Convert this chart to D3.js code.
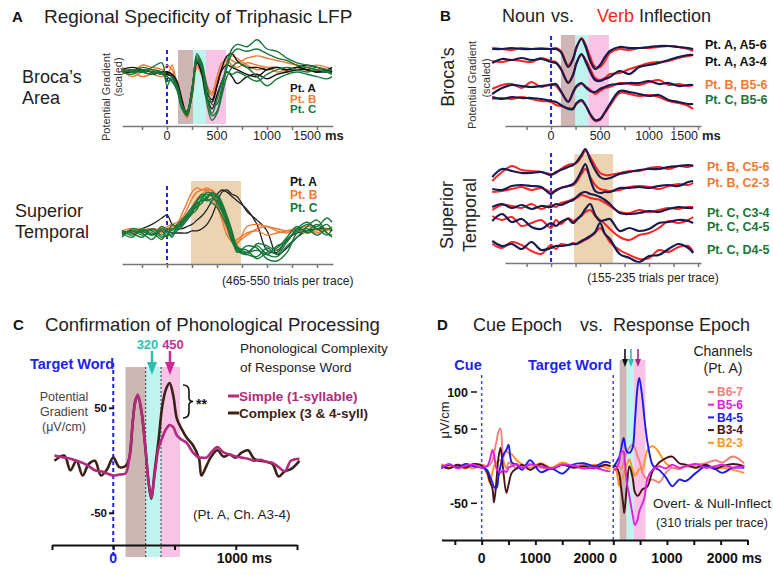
<!DOCTYPE html>
<html lang="en">
<head>
<meta charset="utf-8">
<title>Triphasic LFP</title>
<script src="https://d3js.org/d3.v7.min.js"></script>
<style>
body { margin: 0; background: #fff; }
text { font-family: "Liberation Sans", Arial, sans-serif; }
</style>
</head>
<body>
<script>

// ---- data ----
// Panel A (scaled potential gradient), time in ms
var tA = [-450,-350,-250,-150,-50,0,50,100,150,200,250,300,350,400,450,500,550,600,650,700,800,900,1000,1100,1200,1300,1400,1500,1600,1650];

var brocaPtA = [
  [0.05,0.1,0.05,0,0,0,-0.05,-0.2,-0.6,-0.95,-0.5,0.3,0.1,-0.45,-0.6,-0.3,0.1,0.35,0.4,0.25,0.1,0.1,0.05,0.1,0.05,0.1,0.15,0.1,0.05,0.1],
  [0,0.05,0,-0.05,0,0,-0.05,-0.3,-0.7,-0.9,-0.4,0.25,0,-0.55,-0.8,-0.5,-0.2,0,-0.1,-0.25,-0.1,-0.05,-0.15,-0.05,0,0.05,0.05,0,0.05,0],
  [0,0,0.05,0,-0.05,-0.05,-0.1,-0.35,-0.75,-0.85,-0.35,0.2,-0.05,-0.6,-0.65,-0.3,0.05,0.15,0.1,0.05,-0.05,-0.1,0.05,0.1,0.05,0.1,0.05,0,0,0]
];
var brocaPtB = [
  [0.1,0,0.15,0.1,0.05,-0.1,0.15,-0.3,-0.75,-1.0,-0.45,0.2,0,-0.35,-0.5,-0.2,0.1,0.3,0.25,0.2,0.3,0.35,0.3,0.25,0.2,0.15,0.1,0.15,0.1,0.05],
  [0.05,-0.1,0,0.05,0,0.15,0.05,-0.25,-0.7,-0.95,-0.5,0.15,-0.1,-0.5,-0.6,-0.25,0.05,0.2,0.35,0.3,0.15,0.05,0.1,0,0.05,0.1,0.05,0.1,0.05,0],
  [-0.05,0,-0.1,-0.05,-0.1,0,-0.05,-0.2,-0.65,-0.9,-0.55,0.1,-0.05,-0.3,-0.45,-0.1,0.2,0.25,0.15,0.1,0.2,0.15,0.1,0.1,0,0.05,0.1,0,0.05,0]
];
var brocaPtC = [
  [0,0.05,0,0.1,0.2,-0.3,-0.1,-0.3,-0.8,-0.95,-0.4,0.4,0.15,-0.3,-0.7,-0.7,-0.3,0.2,0.5,0.6,0.55,0.7,0.5,0.45,0.3,0.2,0.15,0.1,0.05,0.05],
  [0.05,0,0.1,0.05,0,-0.2,-0.15,-0.35,-0.8,-0.9,-0.45,0.35,0.2,-0.5,-0.95,-0.85,-0.4,0.1,0.4,0.5,0.45,0.5,0.4,0.3,0.25,0.15,0.1,0.05,0,0.05],
  [0,-0.05,0.05,0,-0.05,-0.1,-0.2,-0.4,-0.75,-0.85,-0.4,0.3,0.1,-0.7,-1.05,-0.9,-0.5,-0.1,0.1,0.2,0.1,-0.1,-0.3,-0.15,-0.05,0,-0.05,-0.1,-0.15,-0.1],
  [0.05,0,0,-0.05,0,-0.1,-0.2,-0.3,-0.7,-0.9,-0.5,0.25,0.05,-0.55,-0.9,-0.6,-0.2,0,-0.05,0,-0.1,-0.2,-0.05,0.05,0.1,0.05,0,0.05,0,-0.05]
];
var stgPtA = [
  [0,0.05,0.1,0.2,0.35,0.42,0.2,0.1,0.1,0.15,0.2,0.3,0.4,0.55,0.75,0.9,1.0,0.95,0.85,0.75,0.55,0.2,-0.4,-0.45,-0.15,0,0.05,0.1,0.1,0.05],
  [0.05,0,0.05,0.1,0.05,0.05,0,0,0,0,0.05,0.05,0.1,0.2,0.4,0.7,0.95,1.0,0.9,0.85,0.5,0.3,0.05,-0.5,-0.35,-0.1,0.05,0.1,0.1,0.05]
];
var stgPtB = [
  [0.05,0.1,0,0.1,0.05,0.1,0.15,0.2,0.45,0.7,0.95,1.05,1.0,1.0,0.85,0.6,0.35,0.1,-0.2,-0.25,0.15,0.2,0.15,0.1,0.05,0.05,0,0.05,0.1,0.05],
  [0,0.05,0.1,0.05,0.1,0.15,0.2,0.25,0.35,0.55,0.8,0.95,1.0,1.05,0.95,0.7,0.3,-0.05,-0.2,-0.15,0,0.05,-0.05,0,0.05,0.1,0.05,0,0.1,0.05],
  [0.05,0,0.05,0.1,0,0.1,0.1,0.15,0.25,0.45,0.6,0.8,0.9,1.0,1.0,0.85,0.5,0.1,-0.15,-0.2,-0.05,0.1,0.15,0.05,0,0.1,0.15,0.1,0.05,0.15]
];
var stgPtC = [
  [0,-0.1,0.1,-0.05,0.05,-0.1,0.2,0.15,0.3,0.45,0.6,0.75,0.85,0.9,0.85,0.7,0.5,0.3,0,-0.35,-0.5,-0.55,-0.35,-0.5,-0.2,0.1,0.25,0.1,0.2,0.05],
  [0.05,0,-0.1,0.1,-0.05,0.05,0,0.1,0.2,0.35,0.5,0.65,0.8,0.95,0.9,0.8,0.6,0.25,-0.1,-0.4,-0.45,-0.3,-0.5,-0.55,-0.3,-0.1,0.15,0.3,0,-0.05],
  [-0.05,0.05,0,-0.15,0.1,0,-0.05,0.05,0.15,0.3,0.45,0.7,0.75,0.8,0.95,0.85,0.65,0.35,0,-0.45,-0.3,-0.35,-0.6,-0.65,-0.45,0,0.1,-0.05,0.1,0.1],
  [0,0.05,-0.05,0,-0.15,0.1,0.05,0.2,0.3,0.4,0.55,0.75,0.9,0.8,0.7,0.6,0.4,0.15,-0.2,-0.4,-0.5,-0.25,-0.3,-0.4,-0.15,0.05,0.2,0.15,0.35,0.25],
  [0.05,-0.05,0.05,0.05,-0.1,-0.05,0.1,0.1,0.25,0.35,0.5,0.6,0.7,0.85,0.9,0.9,0.7,0.4,0.05,-0.3,-0.45,-0.4,-0.5,-0.3,-0.2,0.1,0.05,0.2,0,-0.1],
  [-0.1,0.1,0.05,-0.05,0.15,0.05,-0.1,0.15,0.2,0.4,0.45,0.55,0.8,0.75,0.8,0.75,0.55,0.2,-0.15,-0.35,-0.4,-0.6,-0.45,-0.35,-0.1,0.15,0,0.1,-0.05,0.1]
];

// Panel B: noun (navy) vs verb (red), scaled
var tB = [-600,-500,-400,-300,-200,-100,0,50,100,175,225,260,310,350,400,450,500,550,600,700,800,900,1000,1100,1200,1300,1400,1450];
var brocaLabels = ["Pt. A, A5-6", "Pt. A, A3-4", "Pt. B, B5-6", "Pt. C, B5-6"];
var brocaNoun = [
  [0,0,0.1,0,0,0,0,0,-0.3,-1.8,-1.0,0.2,1.0,0.3,-1.2,-2.0,-1.6,-0.8,-0.2,0.2,0.1,0.1,0.2,0.3,0.3,0.2,0.1,0],
  [0,0.4,0.3,0.5,0.3,0.4,0.1,0,-0.6,-2.0,-1.2,0,0.9,0.2,-0.9,-1.7,-1.8,-1.6,-1.4,-0.8,-1.1,-0.4,-0.2,0,0.3,0.6,0.8,0.8],
  [-0.8,-0.2,0.1,0,-0.1,0,0.1,0.2,-0.5,-1.6,-0.6,0,0.3,-0.1,-0.5,-0.6,-0.3,-0.1,0.1,0.2,0.3,0.3,0.5,0.2,0.3,0,0.1,0.1],
  [0.3,0.1,0.3,0.2,0.2,0.1,-0.1,-0.2,-0.5,-0.9,-0.9,-0.3,0,-0.5,-1.4,-2.0,-1.9,-1.2,-0.4,0.9,0.8,0.6,0.4,0.5,0,-0.2,-0.4,-0.4]
];
var brocaVerb = [
  [0.1,0,-0.1,0.1,0,0.1,0,0.1,-0.2,-1.6,-0.9,0.1,1.1,0.5,-0.8,-1.8,-1.8,-1.2,-0.4,0,-0.1,0.1,0.1,0.2,0.3,0.2,0,-0.2],
  [0.2,0.1,0.3,0.2,0.1,0.5,0.2,0.1,-0.5,-1.9,-1.1,0,0.8,0.4,-0.6,-1.5,-1.7,-1.5,-1.1,-1.0,-0.6,-0.3,0,0.1,0.2,0.5,0.7,0.8],
  [-0.3,0.1,0.2,-0.2,0.4,-0.1,0.2,0,-0.6,-1.5,-0.7,-0.1,0.2,0,-0.4,-0.8,-0.5,-0.2,-0.1,0.3,0.2,0.1,0.4,0.6,0.1,0.2,0,0.1],
  [0.1,0.2,0.1,0.3,0.1,-0.1,-0.2,-0.5,-0.6,-0.8,-0.8,-0.4,-0.1,-0.5,-1.5,-2.1,-2.0,-1.3,-0.6,0.7,0.6,0.4,0.5,0.3,-0.1,-0.3,-0.6,-0.9]
];
var stgLabels = ["Pt. B, C5-6", "Pt. B, C2-3", "Pt. C, C3-4", "Pt. C, C4-5", "Pt. C, D4-5"];
var stgNoun = [
  [-0.2,0.6,0.4,0.2,0.2,0.3,0,0.3,0.5,0.8,1.0,1.3,2.0,2.6,1.5,0.5,-0.2,-0.4,-0.3,0.1,0.3,0.5,0.6,0.6,0.8,0.9,1.0,0.9],
  [0,-0.1,0.3,0.4,0.3,0.2,-0.5,-0.1,0.1,0.3,0.5,0.9,1.8,2.5,1.0,-0.2,-0.4,-0.3,-0.3,0.1,0.1,0.2,0.1,0.3,0.4,0.3,0.7,0.8],
  [0.3,0.6,0.2,0.5,0.1,0.4,0.3,0.6,0.5,0.8,1.0,1.3,1.7,1.8,1.6,1.5,1.3,1.0,0.6,-0.3,-0.4,-0.3,-0.1,-0.2,0.1,0.3,0.2,0.2],
  [0.4,1.1,0.3,0.6,-0.2,-0.4,0.2,-0.1,0.3,0.6,0.2,0.5,1.0,1.6,2.1,1.0,0.4,0.5,0.6,-0.6,-0.3,-0.6,-0.4,0.2,0.3,0.5,0.4,0.2],
  [0.5,0,0.2,-0.3,0.4,-0.4,-0.2,0,0,0.1,0.2,0.2,0.5,0.7,1.0,1.4,2.3,1.2,0.7,-0.8,-1.2,-1.6,-1.0,-0.9,-0.3,0.2,-0.2,-0.7]
];
var stgVerb = [
  [-0.6,0.3,0.9,0.5,0.4,0.3,0.1,0.2,0.6,1.0,1.1,1.2,1.8,2.4,1.8,0.9,0.2,0,0,0.2,0.4,0.4,0.7,0.8,0.6,0.9,0.8,1.0],
  [-0.3,-0.2,0,0.2,-0.1,0.1,-0.3,-0.2,0.1,0.3,0.4,0.7,1.5,2.0,1.2,0.4,0,-0.1,-0.2,-0.1,0.2,0.3,0.2,0,0.3,0.5,0.4,0.6],
  [0,0.5,0.4,0.2,0.6,0.1,0.5,0.3,0.7,0.9,1.1,1.2,1.5,1.4,1.2,1.1,1.0,0.7,0.4,-0.2,-0.3,0,-0.2,0,0.2,0.1,0.3,0.3],
  [0.9,0.5,0.8,-0.1,0.2,0.5,-0.3,0.5,0.1,0.7,0.4,0.6,0.9,1.3,1.5,0.9,0.5,0.1,-0.4,-1.2,-1.5,-1.0,-0.8,-0.3,0.4,0.2,0.5,0.8],
  [0.2,-0.2,0.4,0.1,-0.5,-0.8,0.1,-0.3,0.2,0.1,0.3,0.2,0.4,0.6,0.9,1.3,1.8,1.2,0.4,-0.4,-0.9,-1.3,-1.2,-0.4,-0.6,-0.1,0,-0.6]
];

// Panel C: uV/cm, Pt. A ch. A3-4
var tC = [-480,-400,-350,-300,-250,-200,-150,-100,-50,0,50,100,130,160,180,200,230,260,290,310,340,370,400,430,460,490,520,560,600,650,700,720,760,800,850,900,950,1000,1050,1100,1150,1200,1250,1300,1350,1400,1450,1520];
var simpleWord = [5,3,2,0,-2,-5,-9,-10,-12,-14,-13,-12,2,38,56,63,48,16,-22,-35,-12,12,22,30,34,32,24,20,17,8,3,3,3,8,13,8,6,4,3,2,0,1,-1,-2,-6,-10,0,2];
var complexWord = [0,5,-9,0,-14,-3,0,-14,-8,3,-6,-5,2,38,57,62,47,15,-22,-36,-8,20,52,68,74,62,40,30,22,15,2,-14,-5,4,10,4,6,3,8,10,2,0,-1,-3,-15,-10,-8,0];

// Panel D: uV/cm, cue epoch and response epoch
var tCue = [-750,-600,-450,-300,-150,0,100,150,200,230,280,310,350,400,460,500,560,650,750,900,1100,1300,1500,1700,1900,2100,2300,2400];
var tResp = [0,50,110,143,192,205,250,300,360,403,453,484,545,580,640,730,795,855,980,1100,1230,1350,1540,1720,1900,2030,2230,2440];
var channels = ["B6-7", "B5-6", "B4-5", "B3-4", "B2-3"];
var cueB67 = [3,-2,2,0,-3,2,0,2,8,18,35,46,51,10,-3,5,2,-3,0,3,-2,-4,3,0,2,-2,1,0];
var cueB56 = [-2,3,-3,1,2,-2,0,8,22,15,-4,-6,-9,-5,-8,-2,0,3,-2,2,0,-3,2,1,-3,-2,-6,-7];
var cueB45 = [-3,2,-2,3,0,-2,-5,-13,-22,-28,-29,-15,0,15,22,29,5,2,-5,8,-8,-3,-10,2,4,0,6,4];
var cueB34 = [0,-3,2,-2,3,1,-8,-20,-30,-49,-15,10,25,-5,-36,-25,-9,-3,2,-5,3,-4,2,-2,0,-3,2,0];
var cueB23 = [2,-1,0,-3,1,2,-10,-22,-8,0,5,8,8,12,20,18,16,8,3,-2,4,-2,5,0,-3,2,-2,-3];
var respB67 = [0,4,0,-4,5,10,18,25,29,25,13,8,-9,-14,-18,-18,-20,-22,-9,-2,-4,0,2,4,8,5,13,4];
var respB56 = [-5,-4,5,18,20,15,-20,-40,-65,-79,-72,-61,-50,-43,-16,-5,-2,0,-3,2,-2,0,3,-2,0,2,-2,0];
var respB45 = [-2,4,12,22,38,35,20,18,25,60,107,119,90,65,31,2,-3,-5,-15,-27,-18,-20,-9,0,-4,-9,-2,-2];
var respB34 = [0,0,-10,-27,-55,-63,-30,0,-15,-35,-40,-38,-31,-30,-27,-7,0,5,11,13,4,2,-2,2,-3,0,3,0];
var respB23 = [-3,-5,-27,-20,-13,-8,2,9,-5,-13,-8,-4,-4,5,22,27,24,18,4,-2,-3,0,-2,0,-4,-2,-5,-9];

// time windows (ms)
var winA = [110, 260, 390, 590];
var winB = [100, 250, 380, 590];
var winC = [100, 265, 390, 545];
var winD = [120, 250, 380, 600];
var stgWinA = [240, 740];
var stgWinB = [235, 633];

// ---- drawing ----
var svg = d3.select("body").append("svg")
    .attr("width", 773)
    .attr("height", 575)
    .style("background", "#fff");

var BROWN = "#cdb6b3", CYAN = "#bff4ee", PINK = "#f8c3e5", TAN = "#ecd4b3";
var BLUE = "#2222ee";

function label(x, y, s, o) {
  o = o || {};
  var t = svg.append("text")
      .attr("x", x).attr("y", y)
      .attr("font-size", o.size || 12)
      .attr("font-weight", o.bold ? "bold" : "normal")
      .attr("fill", o.color || "#222")
      .attr("text-anchor", o.anchor || "start")
      .text(s);
  if (o.rotate) t.attr("transform", "rotate(-90," + x + "," + y + ")");
  return t;
}

function shade(x, t0, t1, y0, y1, color) {
  svg.append("rect")
     .attr("x", x(t0)).attr("width", x(t1) - x(t0))
     .attr("y", y0).attr("height", y1 - y0)
     .attr("fill", color);
}

function triWindows(x, w, y0, y1) {
  shade(x, w[0], w[1], y0, y1, BROWN);
  shade(x, w[1], w[2], y0, y1, CYAN);
  shade(x, w[2], w[3], y0, y1, PINK);
}

function vdash(x, t, y0, y1, color, width, dash) {
  svg.append("line")
     .attr("x1", x(t)).attr("x2", x(t))
     .attr("y1", y0).attr("y2", y1)
     .attr("stroke", color).attr("stroke-width", width)
     .attr("stroke-dasharray", dash);
}

function traces(x, y, times, list, color, width, dy) {
  var line = d3.line()
      .x(function(d, i) { return x(times[i]); })
      .y(function(d) { return y(d) + (dy || 0); })
      .curve(d3.curveCatmullRom.alpha(0.5));
  svg.append("g").selectAll("path")
     .data(list)
     .enter().append("path")
     .attr("d", line)
     .attr("fill", "none")
     .attr("stroke", color)
     .attr("stroke-width", width)
     .attr("stroke-linejoin", "round");
}

function timeAxis(x, y, ticks, color, width, size) {
  var g = svg.append("g")
      .attr("transform", "translate(0," + y + ")")
      .call(d3.axisBottom(x).tickValues(ticks).tickSize(size).tickSizeOuter(0).tickFormat(""));
  g.selectAll("path, line").attr("stroke", color).attr("stroke-width", width);
}

var cA = "#111", cOr = "#f07a32", cGr = "#17773a";

// ===== Panel A =====
label(12, 22, "A", {size: 15, bold: true, color: "#111"});
label(44, 23, "Regional Specificity of Triphasic LFP", {size: 19, color: "#222"});

var xA = d3.scaleLinear().domain([-450, 1660]).range([122, 333]);
var yA1 = d3.scaleLinear().domain([-1, 1]).range([118, 26]);
var yA2 = d3.scaleLinear().domain([0, 1]).range([233, 190]);

triWindows(xA, winA, 50, 124);
vdash(xA, 0, 50, 126, BLUE, 2, "4,3");
traces(xA, yA1, tA, brocaPtB, cOr, 1.4);
traces(xA, yA1, tA, brocaPtA, cA, 1.4);
traces(xA, yA1, tA, brocaPtC, cGr, 1.4);
timeAxis(xA, 126, [-250,0,250,500,750,1000,1250,1500], "#777", 1.5, 4);
label(xA(0), 140, "0", {size: 12.5, anchor: "middle"});
label(xA(500), 140, "500", {size: 12.5, anchor: "middle"});
label(xA(1000), 140, "1000", {size: 12.5, anchor: "middle"});
label(xA(1500) + 4, 140, "1500", {size: 12.5, anchor: "end"});
label(xA(1500) + 8, 140, "ms", {size: 13, bold: true});

label(22, 83, "Broca\u2019s", {size: 18});
label(22, 104, "Area", {size: 18});
label(110, 97, "Potential Gradient", {size: 11, color: "#333", anchor: "middle", rotate: true});
label(122, 77, "(scaled)", {size: 11, color: "#333", anchor: "middle", rotate: true});
label(290, 92, "Pt. A", {size: 11.5, bold: true, color: cA});
label(290, 102.5, "Pt. B", {size: 11.5, bold: true, color: cOr});
label(290, 113, "Pt. C", {size: 11.5, bold: true, color: cGr});

shade(xA, stgWinA[0], stgWinA[1], 181, 264, TAN);
vdash(xA, 0, 186, 264, BLUE, 2, "4,3");
traces(xA, yA2, tA, stgPtA, "#222", 1.3);
traces(xA, yA2, tA, stgPtB, cOr, 1.4);
traces(xA, yA2, tA, stgPtC, cGr, 1.4);
timeAxis(xA, 264, [-250,0,250,500,750,1000,1250,1500], "#777", 1.5, 4);
label(222, 285, "(465-550 trials per trace)", {size: 12});
label(15, 217, "Superior", {size: 18});
label(15, 238, "Temporal", {size: 18});
label(290, 186, "Pt. A", {size: 12, bold: true, color: cA});
label(290, 199, "Pt. B", {size: 12, bold: true, color: cOr});
label(290, 212, "Pt. C", {size: 12, bold: true, color: cGr});

// ===== Panel B =====
var NAVY = "#161a4e", RED = "#ff2424";
label(440, 21, "B", {size: 15, bold: true, color: "#111"});
label(502, 22, "Noun", {size: 18});
label(551, 22, "vs.", {size: 18});
label(597, 22, "Verb", {size: 18, color: RED});
label(639, 22, "Inflection", {size: 18});

var xB = d3.scaleLinear().domain([-470, 1530]).range([505, 701]);
var yB = d3.scaleLinear().domain([0, 1]).range([0, -10]);
var rowsTop = [49, 63, 86, 100];
var rowsBot = [175, 189, 210, 225, 246];
var labTop = [49, 66, 89, 104];
var labBot = [171, 187, 217, 230.5, 253.5];
var brocaColors = [cA, cA, cOr, cGr];
var stgColors = [cOr, cOr, cGr, cGr, cGr];

triWindows(xB, winB, 35, 126);
vdash(xB, 0, 36, 126, BLUE, 2, "4,3");
brocaNoun.forEach(function(d, i) {
  traces(xB, yB, tB, [brocaVerb[i]], RED, 2, rowsTop[i]);
  traces(xB, yB, tB, [d], NAVY, 2.2, rowsTop[i]);
  label(705, labTop[i], brocaLabels[i], {size: 12.5, bold: true, color: brocaColors[i]});
});
timeAxis(xB, 126, [-250,0,250,500,750,1000,1250,1500], "#777", 1.5, 4);
label(xB(0), 140, "0", {size: 12.5, anchor: "middle"});
label(xB(500), 140, "500", {size: 12.5, anchor: "middle"});
label(xB(1000), 140, "1000", {size: 12.5, anchor: "middle"});
label(xB(1500), 140, "1500", {size: 12.5, anchor: "end"});
label(xB(1500) + 4, 140, "ms", {size: 13, bold: true});
label(454, 77, "Broca\u2019s", {size: 18, anchor: "middle", rotate: true});
label(476, 85, "Potential Gradient", {size: 11, color: "#333", anchor: "middle", rotate: true});
label(490, 78, "(scaled)", {size: 11, color: "#333", anchor: "middle", rotate: true});

shade(xB, stgWinB[0], stgWinB[1], 154, 263, TAN);
vdash(xB, 0, 153, 263, BLUE, 2, "4,3");
stgNoun.forEach(function(d, i) {
  traces(xB, yB, tB, [stgVerb[i]], RED, 2, rowsBot[i]);
  traces(xB, yB, tB, [d], NAVY, 2.2, rowsBot[i]);
  label(707, labBot[i], stgLabels[i], {size: 12.5, bold: true, color: stgColors[i]});
});
timeAxis(xB, 263, [-250,0,250,500,750,1000,1250,1500], "#777", 1.5, 4);
label(653, 282, "(155-235 trials per trace)", {size: 12, anchor: "middle"});
label(453, 215, "Superior", {size: 18, anchor: "middle", rotate: true});
label(476, 215, "Temporal", {size: 18, anchor: "middle", rotate: true});

// ===== Panel C =====
var SIMPLE = "#b3297b", COMPLEX = "#3b2216";
label(13, 330, "C", {size: 15, bold: true, color: "#111"});
label(45, 331, "Confirmation of Phonological Processing", {size: 18.6});

var xC = d3.scaleLinear().domain([-500, 1500]).range([52, 297]);
var yC = d3.scaleLinear().domain([-50, 50]).range([513.3, 408.3]);

triWindows(xC, winC, 367, 557);
vdash(xC, winC[1], 367, 557, "#333", 1, "2,2");
vdash(xC, winC[2], 367, 557, "#333", 1, "2,2");
vdash(xC, 0, 363, 557, BLUE, 2, "4,3");
traces(xC, yC, tC, [complexWord], COMPLEX, 2.6);
traces(xC, yC, tC, [simpleWord], SIMPLE, 2.6);
timeAxis(xC, 545, [-500, 0, 500, 1000, 1500], "#111", 2, 5);
label(xC(0), 563, "0", {size: 14, bold: true, color: BLUE, anchor: "middle"});
label(xC(1000) - 19, 563, "1000 ms", {size: 14, bold: true, color: "#111"});

[50, -50].forEach(function(v) {
  svg.append("line").attr("x1", 109).attr("x2", 114)
     .attr("y1", yC(v)).attr("y2", yC(v))
     .attr("stroke", "#111").attr("stroke-width", 2);
  label(107, yC(v) + 4, String(v), {size: 11.5, bold: true, anchor: "end", color: "#111"});
});

label(30, 369, "Target Word", {size: 14.5, bold: true, color: BLUE});
label(64, 401, "Potential", {size: 12.5, color: "#444", anchor: "middle"});
label(64, 416, "Gradient", {size: 12.5, color: "#444", anchor: "middle"});
label(64, 431, "(\u03bcV/cm)", {size: 12.5, color: "#444", anchor: "middle"});

// peak markers
var peakMarks = [["320", "#2fbfae"], ["450", "#cc2a95"]];
var peakX = [152, 170], peakTextX = [147.5, 173];
peakMarks.forEach(function(p, i) {
  var px = peakX[i];
  label(peakTextX[i], 349, p[0], {size: 13, bold: true, color: p[1], anchor: "middle"});
  svg.append("line").attr("x1", px).attr("x2", px).attr("y1", 351).attr("y2", 364)
     .attr("stroke", p[1]).attr("stroke-width", 2.5);
  svg.append("path").attr("d", "M" + (px - 5) + ",362 L" + (px + 5) + ",362 L" + px + ",375 Z")
     .attr("fill", p[1]);
});

label(240, 353, "Phonological Complexity", {size: 13.5, color: "#222"});
label(240, 372, "of Response Word", {size: 13.5, color: "#222"});
svg.append("line").attr("x1", 228).attr("x2", 239).attr("y1", 396).attr("y2", 396)
   .attr("stroke", SIMPLE).attr("stroke-width", 3);
label(239, 401, "Simple (1-syllable)", {size: 13.5, bold: true, color: SIMPLE});
svg.append("line").attr("x1", 228).attr("x2", 239).attr("y1", 413).attr("y2", 413)
   .attr("stroke", COMPLEX).attr("stroke-width", 3);
label(239, 418, "Complex (3 & 4-syll)", {size: 13.5, bold: true, color: COMPLEX});

svg.append("path")
   .attr("d", "M183,385 Q189,385 189,391 L189,398 Q189,401 193,401.5 Q189,402 189,405 L189,412 Q189,418 183,418")
   .attr("fill", "none").attr("stroke", "#111").attr("stroke-width", 1.6);
label(196, 409, "**", {size: 14, bold: true, color: "#111"});
label(193, 519, "(Pt. A, Ch. A3-4)", {size: 13.5, color: "#222"});

// ===== Panel D =====
var chColors = ["#f57f7a", "#e21ee0", "#1b1bf0", "#4b1214", "#ff9520"];
label(437, 330, "D", {size: 15, bold: true, color: "#111"});
label(473, 331, "Cue Epoch", {size: 18});
label(580, 331, "vs.", {size: 18});
label(613, 331, "Response Epoch", {size: 18});

var respStart = 2450;   // response epoch follows the cue epoch on the same axis
var xD = d3.scaleLinear().domain([-750, 4950]).range([441.4, 747.5]);
var xResp = function(t) { return xD(t + respStart); };
var yD = d3.scaleLinear().domain([-50, 100]).range([503.3, 392]);

shade(xResp, winD[0], winD[1], 360, 540, BROWN);
shade(xResp, winD[1], winD[2], 360, 540, CYAN);
shade(xResp, winD[2], winD[3], 360, 540, PINK);
vdash(xD, 0, 375, 540, "#3a4cf0", 1.5, "3,3");
vdash(xResp, 0, 375, 540, "#3a4cf0", 1.5, "3,3");

var cueSeries = [cueB23, cueB67, cueB34, cueB45, cueB56];
var respSeries = [respB23, respB67, respB34, respB45, respB56];
var order = [4, 0, 3, 2, 1];
order.forEach(function(ci, k) {
  traces(xD, yD, tCue, [cueSeries[k]], chColors[ci], 1.9);
  traces(xResp, yD, tResp, [respSeries[k]], chColors[ci], 1.9);
});

timeAxis(xD, 540, [-500,0,500,1000,1500,2000,2450,2950,3450,3950,4450,4950], "#111", 2, 5);
label(xD(0), 563, "0", {size: 14, bold: true, anchor: "middle", color: "#111"});
label(xD(1000), 563, "1000", {size: 14, bold: true, anchor: "middle", color: "#111"});
label(xD(2000), 563, "2000", {size: 14, bold: true, anchor: "middle", color: "#111"});
label(xResp(0), 563, "0", {size: 14, bold: true, anchor: "middle", color: "#111"});
label(xResp(1000), 563, "1000", {size: 14, bold: true, anchor: "middle", color: "#111"});
label(xResp(2000) - 14, 563, "2000 ms", {size: 14, bold: true, color: "#111"});

[100, 50, -50].forEach(function(v) {
  svg.append("line").attr("x1", 471).attr("x2", 477)
     .attr("y1", yD(v)).attr("y2", yD(v))
     .attr("stroke", "#111").attr("stroke-width", 1.5);
  label(468, yD(v) + 4.5, String(v), {size: 12.5, bold: true, anchor: "end", color: "#111"});
});
label(449, 420, "\u03bcV/cm", {size: 13, anchor: "middle", rotate: true, color: "#222"});

label(468, 370, "Cue", {size: 14.5, bold: true, color: BLUE, anchor: "middle"});
label(612, 370, "Target Word", {size: 14.5, bold: true, color: BLUE, anchor: "end"});

var arrowX = [625, 631, 638], arrowC = ["#111", "#2fbfae", "#a02a8a"];
arrowX.forEach(function(ax, i) {
  svg.append("line").attr("x1", ax).attr("x2", ax).attr("y1", 349).attr("y2", 360)
     .attr("stroke", arrowC[i]).attr("stroke-width", 1.6);
  svg.append("path").attr("d", "M" + (ax - 3) + ",359 L" + (ax + 3) + ",359 L" + ax + ",367 Z")
     .attr("fill", arrowC[i]);
});

label(723, 356, "Channels", {size: 14, anchor: "middle", color: "#222"});
label(723, 373, "(Pt. A)", {size: 14, anchor: "middle", color: "#222"});
channels.forEach(function(c, i) {
  var yy = 392 + i * 12.7;
  svg.append("line").attr("x1", 708).attr("x2", 714).attr("y1", yy).attr("y2", yy)
     .attr("stroke", chColors[i]).attr("stroke-width", 2);
  label(717, yy + 4.2, c, {size: 12, bold: true, color: chColors[i]});
});

label(712, 508, "Overt- & Null-Inflect", {size: 13.5, anchor: "middle", color: "#222"});
label(712, 527, "(310 trials per trace)", {size: 12.5, anchor: "middle", color: "#222"});

</script>
</body>
</html>
